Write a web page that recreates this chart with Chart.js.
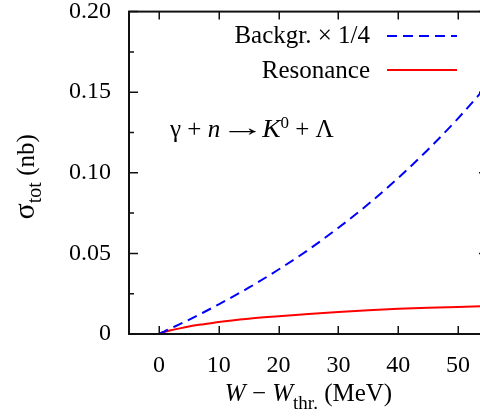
<!DOCTYPE html>
<html><head><meta charset="utf-8">
<script src="https://cdn.jsdelivr.net/npm/chart.js@4/dist/chart.umd.min.js"></script>
<style>
html,body{margin:0;padding:0;background:#fff;overflow:hidden;}
#wrap{width:480px;height:420px;overflow:hidden;position:relative;background:#fff;}
canvas{display:block;}
</style></head><body>
<div id="wrap"><canvas id="c" width="500" height="420" style="width:500px;height:420px"></canvas></div>
<script>
// W - W_thr (MeV)
const energies = [0, 0.5, 1, 2, 3.5, 5, 7.5, 10, 15, 20, 25, 30, 35, 40, 45, 50, 55];
// background cross section x 1/4 (nb)
const backgroundQuarter = [0, 0.00085, 0.0017, 0.0035, 0.0061, 0.0088, 0.0135, 0.0184, 0.0287, 0.0400, 0.0523, 0.0659, 0.0806, 0.0968, 0.1145, 0.1338, 0.1548];
// resonance cross section (nb)
const resonance = [0, 0.0009, 0.0014, 0.0023, 0.0035, 0.0046, 0.0061, 0.0075, 0.0095, 0.0110, 0.0124, 0.0136, 0.0147, 0.0156, 0.0163, 0.0168, 0.0173];
const seriesLabels = ['Backgr. \u00d7 1/4', 'Resonance'];
const xTickValues = [0, 10, 20, 30, 40, 50];
const yTickValues = [0, 0.05, 0.10, 0.15, 0.20];
const yMinorTickValues = [0.025, 0.075, 0.125, 0.175];

const SERIF = "'Liberation Serif','Times New Roman',serif";

// runs: [text, font, dy, scaleX, extraAdvance]
function drawRuns(ctx, runs, x, y) {
  let cx = x;
  for (const r of runs) {
    ctx.font = r[1];
    const sx = r[3] || 1;
    const w = ctx.measureText(r[0]).width * sx + (r[4] || 0);
    ctx.save();
    ctx.translate(cx, y + (r[2] || 0));
    ctx.scale(sx, 1);
    ctx.fillText(r[0], 0, 0);
    ctx.restore();
    cx += w;
  }
  return cx - x;
}
function runsWidth(ctx, runs) {
  let w = 0;
  for (const r of runs) { ctx.font = r[1]; w += ctx.measureText(r[0]).width * (r[3] || 1) + (r[4] || 0); }
  return w;
}

const framePlugin = {
  id: 'frame',
  afterDatasetsDraw(chart) {
    const {ctx, chartArea: a, scales: {x, y}} = chart;
    ctx.save();
    ctx.strokeStyle = '#111';
    ctx.lineWidth = 1.5;
    ctx.beginPath();
    xTickValues.forEach(v => {
      const px = Math.round(x.getPixelForValue(v)) + 0.25;
      ctx.moveTo(px, a.bottom); ctx.lineTo(px, a.bottom - 8);
      ctx.moveTo(px, a.top); ctx.lineTo(px, a.top + 8);
    });
    yTickValues.forEach(v => {
      const py = y.getPixelForValue(v);
      ctx.moveTo(a.left, py); ctx.lineTo(a.left + 9, py);
      ctx.moveTo(a.right, py); ctx.lineTo(a.right - 9, py);
    });
    yMinorTickValues.forEach(v => {
      const py = y.getPixelForValue(v);
      ctx.moveTo(a.left, py); ctx.lineTo(a.left + 5, py);
      ctx.moveTo(a.right, py); ctx.lineTo(a.right - 5, py);
    });
    ctx.stroke();
    ctx.lineWidth = 2;
    ctx.strokeRect(a.left, a.top, a.right - a.left, a.bottom - a.top);

    // legend
    ctx.fillStyle = '#000';
    ctx.textBaseline = 'alphabetic';
    const rows = [{base: 43, line: 36}, {base: 77.5, line: 70}];
    chart.data.datasets.forEach((ds, i) => {
      const r = rows[i];
      ctx.font = '25px ' + SERIF;
      ctx.textAlign = 'right';
      ctx.fillText(ds.label, 370, r.base);
      ctx.textAlign = 'left';
      ctx.save();
      ctx.strokeStyle = ds.borderColor;
      ctx.lineWidth = ds.borderWidth;
      ctx.setLineDash(ds.borderDash || []);
      ctx.beginPath();
      ctx.moveTo(387, r.line); ctx.lineTo(457, r.line);
      ctx.stroke();
      ctx.restore();
    });

    // reaction label
    const up = '25px ' + SERIF, it = 'italic 25px ' + SERIF, sup = '17px ' + SERIF;
    drawRuns(ctx, [['\u03b3 + ', up], ['n', it], ['\u2192', up, -1, 1.8, -3], ['K', it, 0, 1.1], ['0', sup, -9],
                   [' + \u039b', up]], 170, 137);

    // x axis title
    const xr = [['W', it], [' \u2212 ', up], ['W', it], ['thr.', '19px ' + SERIF, 8], [' (MeV)', up]];
    const xw = runsWidth(ctx, xr);
    drawRuns(ctx, xr, (a.left + a.right) / 2 - xw / 2, 401);

    // y axis title (rotated)
    const yr = [['\u03c3', '30px ' + SERIF], ['tot', '20px ' + SERIF, 7], [' (nb)', up]];
    const yw = runsWidth(ctx, yr);
    ctx.save();
    ctx.translate(34, (a.top + a.bottom) / 2 + yw / 2 + 4);
    ctx.rotate(-Math.PI / 2);
    drawRuns(ctx, yr, 0, 0);
    ctx.restore();
    ctx.restore();
  }
};

const toPoints = (xs, ys) => xs.map((v, i) => ({x: v, y: ys[i]}));

new Chart(document.getElementById('c'), {
  type: 'line',
  data: {
    datasets: [
      {label: seriesLabels[0], data: toPoints(energies, backgroundQuarter), borderColor: '#0000ff', borderWidth: 2,
       borderDash: [10, 6], pointRadius: 0, fill: false, cubicInterpolationMode: 'monotone'},
      {label: seriesLabels[1], data: toPoints(energies, resonance), borderColor: '#ff0000', borderWidth: 2,
       pointRadius: 0, fill: false, cubicInterpolationMode: 'monotone'}
    ]
  },
  options: {
    responsive: false,
    animation: false,
    devicePixelRatio: 1,
    layout: {padding: {left: 0, right: 12, top: 11.6, bottom: 0}},
    plugins: {legend: {display: false}, tooltip: {enabled: false}, title: {display: false}},
    scales: {
      x: {
        type: 'linear', min: -5, max: 55,
        afterBuildTicks: s => { s.ticks = xTickValues.map(v => ({value: v})); },
        afterFit: s => { s.height = 86; s.paddingLeft = 0; s.paddingRight = 0; },
        grid: {display: false, drawTicks: false},
        border: {display: false},
        ticks: {font: {family: SERIF, size: 24}, color: '#000', padding: 17, maxRotation: 0, autoSkip: false}
      },
      y: {
        type: 'linear', min: 0, max: 0.2,
        afterBuildTicks: s => { s.ticks = yTickValues.map(v => ({value: v})); },
        afterFit: s => { s.width = 129; s.paddingTop = 0; s.paddingBottom = 0; },
        grid: {display: false, drawTicks: false},
        border: {display: false},
        ticks: {font: {family: SERIF, size: 24}, color: '#000', padding: 18,
                callback: v => v === 0 ? '0' : v.toFixed(2)}
      }
    }
  },
  plugins: [framePlugin]
});
</script>
</body></html>
